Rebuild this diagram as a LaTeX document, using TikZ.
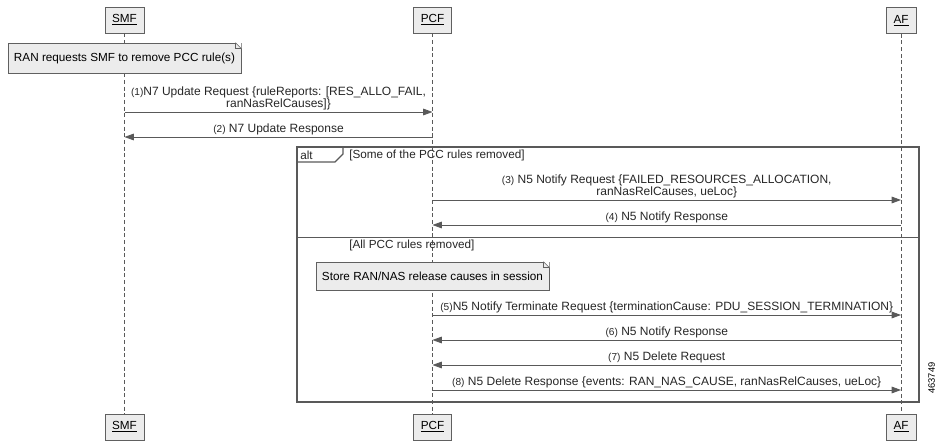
\documentclass[tikz,border=0pt]{standalone}
\usepackage{fontspec}
\setmainfont{Liberation Sans}
\usetikzlibrary{arrows.meta}

\tikzset{
  actor/.style={draw=gray!75!black, fill=gray!15, minimum height=19.5pt, inner xsep=5.5pt, font=\fontsize{8.8}{10}\selectfont},
  lifeline/.style={draw=gray!70!black, dash pattern=on 3pt off 2pt, line width=0.6pt},
  msg/.style={draw=gray!70!black, line width=0.6pt, -{Triangle[length=7pt,width=5pt]}},
  lbl/.style={above, inner sep=1pt, align=center, text=black!85, font=\fontsize{9}{9.3}\selectfont},
  notebox/.style={draw=gray!75!black, fill=gray!15, inner sep=2pt, font=\fontsize{8.8}{10}\selectfont},
  guard/.style={anchor=west, inner sep=0pt, text=black!85, font=\fontsize{8.8}{10}\selectfont},
  frame/.style={draw=gray!70!black, line width=0.8pt},
}
\newcommand{\stepno}[1]{{\fontsize{7.6}{8}\selectfont(#1)}}

\begin{document}
\begin{tikzpicture}[x=0.75pt, y=-0.75pt]
  \useasboundingbox (0,0) rectangle (940,441);

  % actors
  \draw (124.5,20) node[actor](smfTop) {\underline{SMF}};
  \draw (432.5,20) node[actor](pcfTop) {\underline{PCF}};
  \draw (901,20.5) node[actor](afTop) {\underline{AF}};
  \draw (124.5,427) node[actor](smfBot) {\underline{SMF}};
  \draw (432.5,427) node[actor](pcfBot) {\underline{PCF}};
  \draw (901,427) node[actor](afBot) {\underline{AF}};

  \draw[lifeline] (smfTop) -- (smfBot);
  \draw[lifeline] (pcfTop) -- (pcfBot);
  \draw[lifeline] (afTop) -- (afBot);

  % message end points on the lifelines
  \foreach \y/\n in {112/1, 137/2, 200/3, 225/4, 315/5, 340/6, 365/7, 390/8} {
    \coordinate (s\n) at (124.5,\y);
    \coordinate (p\n) at (432.5,\y);
    \coordinate (a\n) at (901,\y);
  }

  % note on SMF
  \draw (124.5,58) node[notebox, minimum width=175pt, minimum height=22.5pt](note1) {RAN requests SMF to remove PCC rule(s)};
  \fill[white] (note1.north east) -- ++(-6,0) -- ++(6,6) -- cycle;
  \draw[gray!75!black] ([xshift=-4.5pt]note1.north east) -- ++(4.5pt,-4.5pt) -- ([yshift=-4.5pt]note1.north east) -- ([xshift=-4.5pt]note1.north east) -- cycle;
  \draw[gray!75!black] ([xshift=-4.5pt]note1.north east) -- ++(0,-4.5pt) -- ([yshift=-4.5pt]note1.north east);

  \draw[msg] (s1) -- node[lbl]{\stepno{1}N7 Update Request \{ruleReports: [RES\_ALLO\_FAIL,\\ranNasRelCauses]\}} (p1);
  \draw[msg] (p2) -- node[lbl]{\stepno{2} N7 Update Response} (s2);

  % alt fragment
  \draw[frame] (297,147) rectangle (919,402);
  \draw[frame] (297,162) -- (335,162) -- (343,154) -- (343,147);
  \draw (300,155) node[guard](altTag) {alt};
  \draw (349,155) node[guard](guard1) {[Some of the PCC rules removed]};

  \draw[msg] (p3) -- node[lbl]{\stepno{3} N5 Notify Request \{FAILED\_RESOURCES\_ALLOCATION,\\ranNasRelCauses, ueLoc\}} (a3);
  \draw[msg] (a4) -- node[lbl]{\stepno{4} N5 Notify Response} (p4);

  \draw[draw=gray!70!black, line width=0.6pt] (297,237) -- (919,237);
  \draw (349,245) node[guard](guard2) {[All PCC rules removed]};

  % note on PCF
  \draw (432.5,276) node[notebox, minimum width=175pt, minimum height=21pt](note2) {Store RAN/NAS release causes in session};
  \fill[white] (note2.north east) -- ++(-6,0) -- ++(6,6) -- cycle;
  \draw[gray!75!black] ([xshift=-4.5pt]note2.north east) -- ++(4.5pt,-4.5pt) -- ([yshift=-4.5pt]note2.north east) -- ([xshift=-4.5pt]note2.north east) -- cycle;
  \draw[gray!75!black] ([xshift=-4.5pt]note2.north east) -- ++(0,-4.5pt) -- ([yshift=-4.5pt]note2.north east);

  \draw[msg] (p5) -- node[lbl]{\stepno{5}N5 Notify Terminate Request \{terminationCause: PDU\_SESSION\_TERMINATION\}} (a5);
  \draw[msg] (a6) -- node[lbl]{\stepno{6} N5 Notify Response} (p6);
  \draw[msg] (a7) -- node[lbl]{\stepno{7} N5 Delete Request} (p7);
  \draw[msg] (p8) -- node[lbl]{\stepno{8} N5 Delete Response \{events: RAN\_NAS\_CAUSE, ranNasRelCauses, ueLoc\}} (a8);

  \draw (928,378) node[rotate=90, anchor=north, inner sep=0pt, font=\fontsize{7}{8}\selectfont](figId) {463749};
\end{tikzpicture}
\end{document}
